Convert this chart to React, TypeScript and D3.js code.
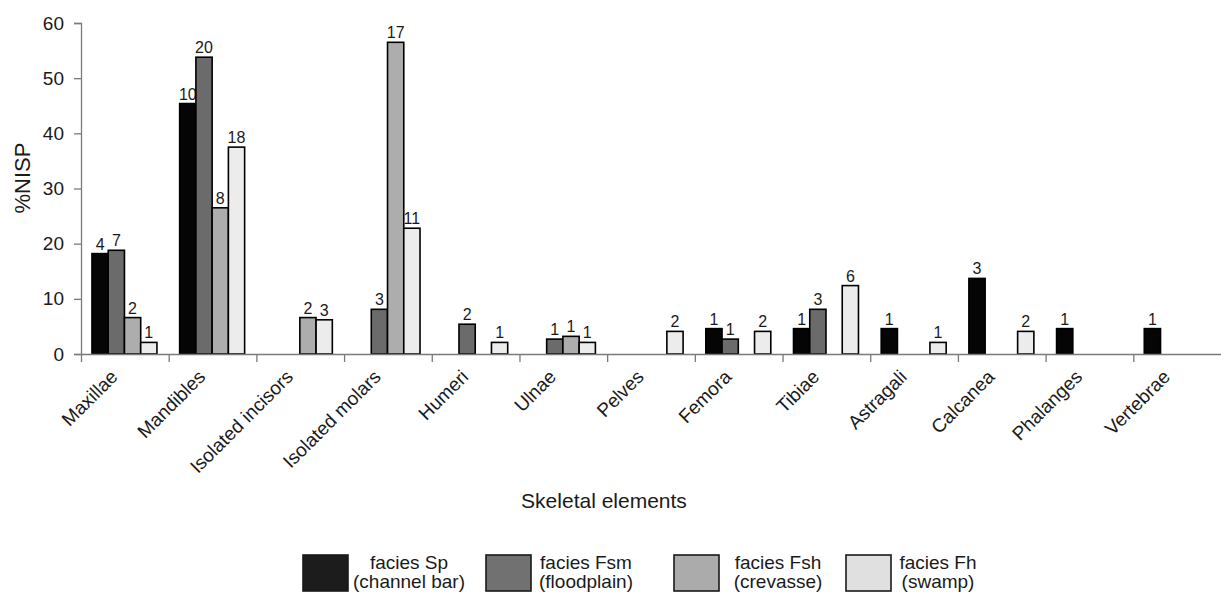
import React, { useEffect, useRef } from 'react';
import * as d3 from 'd3';

const width = 1221;
const height = 596;
const margin = { top: 23, right: 0, bottom: 242, left: 81 };
const font = '"Liberation Sans", Arial, sans-serif';

const categories = [
  'Maxillae', 'Mandibles', 'Isolated incisors', 'Isolated molars', 'Humeri', 'Ulnae', 'Pelves',
  'Femora', 'Tibiae', 'Astragali', 'Calcanea', 'Phalanges', 'Vertebrae'
];

const seriesNames = ['Sp', 'Fsm', 'Fsh', 'Fh'];
const legendLine1 = ['facies Sp', 'facies Fsm', 'facies Fsh', 'facies Fh'];
const legendLine2 = ['(channel bar)', '(floodplain)', '(crevasse)', '(swamp)'];
const colors = ['#050505', '#6b6b6b', '#adadad', '#ececec'];
const legendColors = ['#1c1c1c', '#717171', '#ababab', '#e0e0e0'];

// %NISP per facies (null = not present)
const sp = [18.2, 45.4, null, null, null, null, null, 4.6, 4.6, 4.6, 13.7, 4.6, 4.6];
const fsm = [18.8, 53.8, null, 8.1, 5.4, 2.7, null, 2.7, 8.1, null, null, null, null];
const fsh = [6.6, 26.5, 6.6, 56.5, null, 3.2, null, null, null, null, null, null, null];
const fh = [2.1, 37.5, 6.2, 22.8, 2.1, 2.1, 4.1, 4.1, 12.4, 2.1, 4.1, null, null];

// NISP counts shown above the bars
const spN = [4, 10, null, null, null, null, null, 1, 1, 1, 3, 1, 1];
const fsmN = [7, 20, null, 3, 2, 1, null, 1, 3, null, null, null, null];
const fshN = [2, 8, 2, 17, null, 1, null, null, null, null, null, null, null];
const fhN = [1, 18, 3, 11, 1, 1, 2, 2, 6, 1, 2, null, null];

const yTicks = [0, 10, 20, 30, 40, 50, 60];

// legend placement (square left edge, text centre)
const legendSquareX = [303, 486, 674, 846];
const legendTextX = [409, 586, 778, 938];

const values = [sp, fsm, fsh, fh];
const counts = [spN, fsmN, fshN, fhN];

const x0 = d3.scaleBand<string>().domain(categories).range([margin.left, width - margin.right]).padding(0);
const bw = x0.bandwidth();
const x1 = d3.scaleBand<string>().domain(seriesNames).range([bw * 0.125, bw * 0.866]).padding(0);
const y = d3.scaleLinear().domain([0, 60]).range([height - margin.bottom, margin.top]);

const bars: { x: number; y: number; w: number; h: number; fill: string; n: number | null; key: string }[] = [];
values.forEach((vals, si) => {
  vals.forEach((v, ci) => {
    if (v == null) return;
    bars.push({
      x: (x0(categories[ci]) as number) + (x1(seriesNames[si]) as number),
      y: y(v),
      w: x1.bandwidth(),
      h: y(0) - y(v),
      fill: colors[si],
      n: counts[si][ci],
      key: seriesNames[si] + ci
    });
  });
});

export default function App() {
  const xAxisRef = useRef<SVGGElement>(null);
  const yAxisRef = useRef<SVGGElement>(null);

  useEffect(() => {
    const yAxis = d3.axisLeft(y).tickValues(yTicks).tickSize(7).tickPadding(10).tickFormat(d3.format('d'));
    const gy = d3.select(yAxisRef.current).call(yAxis);
    gy.select('.domain').attr('stroke', '#7a7a7a').attr('stroke-width', 1.3);
    gy.selectAll('.tick line').attr('stroke', '#7a7a7a').attr('stroke-width', 1.3);
    gy.selectAll('.tick text')
      .attr('font-family', font)
      .attr('font-size', 19)
      .attr('fill', '#1a1a1a');

    // ticks sit on the category boundaries
    const boundaries = d3.scaleLinear().domain([0, 1]).range([margin.left, width - margin.right]);
    const bounds = d3.range(categories.length).map(i => (x0(categories[i]) as number));
    const xAxis = d3.axisBottom(boundaries).tickValues(bounds.map(b => (b - margin.left) / (width - margin.right - margin.left)))
      .tickSize(8).tickSizeOuter(0).tickFormat(() => '');
    const gx = d3.select(xAxisRef.current).call(xAxis);
    gx.select('.domain').attr('stroke', '#7a7a7a').attr('stroke-width', 1.3);
    gx.selectAll('.tick line').attr('stroke', '#7a7a7a').attr('stroke-width', 1.3);
  }, []);

  return (
    <div style={{ position: 'absolute', left: 0, top: 0 }}>
      <svg width={width} height={height} style={{ display: 'block', background: '#fff' }}>
        {bars.map(d => (
          <g key={d.key}>
            <rect x={d.x} y={d.y} width={d.w} height={d.h} fill={d.fill} stroke="#000" strokeWidth={1.6} />
            {d.n != null && (
              <text x={d.x + d.w / 2} y={d.y - 4} textAnchor="middle" fontFamily={font} fontSize={16} fill="#1a1a1a">
                {d.n}
              </text>
            )}
          </g>
        ))}
        <g ref={xAxisRef} transform={`translate(0, ${y(0)})`} />
        <g ref={yAxisRef} transform={`translate(${margin.left}, 0)`} />
        {categories.map(c => {
          const cx = (x0(c) as number) + bw / 2 - 6;
          const cy = y(0) + 24;
          return (
            <text key={c} x={cx} y={cy} transform={`rotate(-45, ${cx}, ${cy})`} textAnchor="end"
              fontFamily={font} fontSize={19} fill="#1a1a1a">
              {c}
            </text>
          );
        })}
        <text transform="translate(30, 178) rotate(-90)" textAnchor="middle" fontFamily={font} fontSize={22} fill="#1a1a1a">
          %NISP
        </text>
        <text x={604} y={508} textAnchor="middle" fontFamily={font} fontSize={21} fill="#1a1a1a">
          Skeletal elements
        </text>
        {legendLine1.map((t, i) => (
          <g key={t}>
            <rect x={legendSquareX[i]} y={555} width={45} height={36} fill={legendColors[i]} stroke="#1a1a1a" strokeWidth={1.6} />
            <text x={legendTextX[i]} y={569} textAnchor="middle" fontFamily={font} fontSize={19} fill="#1a1a1a">{t}</text>
            <text x={legendTextX[i]} y={588} textAnchor="middle" fontFamily={font} fontSize={19} fill="#1a1a1a">{legendLine2[i]}</text>
          </g>
        ))}
      </svg>
    </div>
  );
}
